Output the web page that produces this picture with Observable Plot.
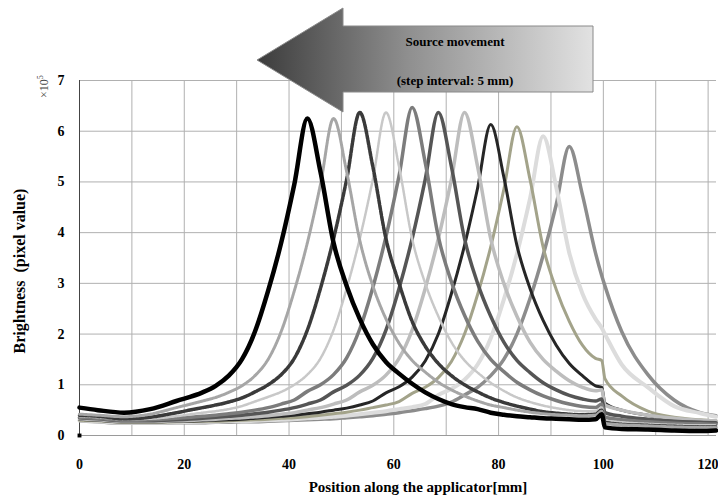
<!DOCTYPE html>
<html><head><meta charset="utf-8">
<script src="https://cdn.jsdelivr.net/npm/d3@7"></script>
<script src="https://cdn.jsdelivr.net/npm/@observablehq/plot@0.6"></script>
<style>
body{margin:0;background:#fff;}
#wrap{position:relative;width:718px;height:504px;overflow:hidden;}
#wrap svg.overlay{position:absolute;left:0;top:0;pointer-events:none;}
</style></head><body><div id="wrap"></div>
<script>
// Position along the applicator [mm] (shared sample grid)
const positions = [0, 3.5, 8.5, 13.5, 18.5, 23.5, 26, 28.5, 31, 33.5, 36, 38.5, 41, 43.5, 46, 48.5, 51, 53.5, 56, 58.5, 61, 63.5, 66, 68.5, 71, 73.5, 76, 78.5, 81, 83.5, 86, 88.5, 91, 93.5, 96, 98.5, 99.7, 100.3, 103.5, 108.5, 113.5, 118.5, 121.5];

// Brightness (x10^5) for each source position (peak near 43.5 ... 93.5 mm)
const src1 = [0.55,0.50,0.45,0.52,0.68,0.85,0.98,1.18,1.50,2.05,2.85,3.80,4.95,6.25,5.20,3.80,2.95,2.30,1.80,1.45,1.22,1.02,0.85,0.72,0.62,0.56,0.52,0.45,0.41,0.38,0.36,0.34,0.33,0.32,0.31,0.32,0.42,0.16,0.13,0.12,0.10,0.09,0.10];
const src2 = [0.42,0.40,0.37,0.42,0.55,0.68,0.75,0.85,0.98,1.18,1.50,2.05,2.85,3.80,4.95,6.25,5.20,3.85,2.95,2.30,1.82,1.48,1.25,1.05,0.90,0.78,0.68,0.60,0.55,0.50,0.46,0.43,0.41,0.40,0.39,0.40,0.48,0.24,0.21,0.19,0.17,0.16,0.16];
const src3 = [0.40,0.38,0.33,0.36,0.45,0.55,0.60,0.66,0.74,0.86,1.00,1.20,1.52,2.08,2.90,3.88,5.05,6.37,5.30,3.88,3.00,2.25,1.76,1.42,1.18,1.00,0.86,0.74,0.65,0.58,0.52,0.47,0.44,0.42,0.41,0.42,0.50,0.26,0.22,0.20,0.18,0.17,0.17];
const src4 = [0.38,0.36,0.32,0.33,0.38,0.45,0.48,0.52,0.58,0.67,0.76,0.86,1.00,1.20,1.52,2.08,2.90,3.88,5.05,6.37,5.30,3.88,3.00,2.35,1.84,1.48,1.24,1.04,0.88,0.75,0.66,0.59,0.54,0.50,0.48,0.48,0.55,0.30,0.26,0.23,0.21,0.20,0.20];
const src5 = [0.36,0.34,0.30,0.31,0.34,0.38,0.40,0.43,0.46,0.50,0.55,0.62,0.70,0.87,1.00,1.20,1.53,2.10,2.92,3.92,5.12,6.47,5.38,3.92,3.03,2.37,1.86,1.50,1.26,1.05,0.90,0.78,0.69,0.62,0.57,0.55,0.62,0.36,0.31,0.27,0.24,0.23,0.22];
const src6 = [0.35,0.33,0.29,0.29,0.31,0.34,0.36,0.38,0.40,0.43,0.46,0.50,0.55,0.62,0.70,0.86,0.99,1.19,1.52,2.08,2.90,3.88,5.05,6.37,5.30,3.88,3.00,2.35,1.84,1.48,1.24,1.04,0.90,0.79,0.72,0.68,0.72,0.45,0.38,0.32,0.28,0.26,0.25];
const src7 = [0.33,0.31,0.28,0.28,0.29,0.31,0.32,0.34,0.35,0.37,0.39,0.42,0.45,0.50,0.55,0.62,0.70,0.86,0.99,1.19,1.52,2.08,2.90,3.88,5.05,6.37,5.30,3.88,3.00,2.35,1.84,1.50,1.27,1.08,0.95,0.88,0.90,0.60,0.50,0.40,0.34,0.30,0.29];
const src8 = [0.32,0.30,0.27,0.27,0.28,0.29,0.30,0.31,0.32,0.34,0.36,0.38,0.40,0.43,0.46,0.50,0.54,0.60,0.68,0.84,0.96,1.15,1.47,2.00,2.80,3.75,4.88,6.13,5.10,3.75,2.90,2.27,1.78,1.42,1.18,0.98,0.95,0.64,0.50,0.40,0.32,0.28,0.26];
const src9 = [0.30,0.29,0.26,0.26,0.27,0.28,0.28,0.29,0.30,0.31,0.32,0.34,0.35,0.37,0.40,0.43,0.46,0.50,0.55,0.60,0.67,0.83,0.95,1.14,1.46,2.00,2.78,3.72,4.85,6.09,5.05,3.72,2.88,2.25,1.78,1.52,1.48,1.12,0.78,0.48,0.36,0.31,0.29];
const src10 = [0.30,0.28,0.25,0.25,0.26,0.27,0.27,0.28,0.28,0.29,0.30,0.31,0.32,0.34,0.35,0.37,0.39,0.42,0.45,0.48,0.52,0.56,0.62,0.80,0.92,1.10,1.40,1.92,2.68,3.58,4.67,5.90,4.90,3.60,2.80,2.30,2.12,2.00,1.40,0.95,0.58,0.44,0.37];
const src11 = [0.29,0.27,0.24,0.24,0.25,0.25,0.26,0.26,0.27,0.27,0.28,0.29,0.30,0.31,0.32,0.33,0.35,0.37,0.39,0.42,0.45,0.49,0.53,0.58,0.66,0.80,0.95,1.18,1.50,2.00,2.70,3.55,4.55,5.70,4.75,3.60,3.15,2.95,2.05,1.20,0.70,0.45,0.39];

const seriesValues = [src1, src2, src3, src4, src5, src6, src7, src8, src9, src10, src11];
const seriesColors = ["#000000", "#a6a6a6", "#3a3a3a", "#c8c8c8", "#7c7c7c", "#555555", "#bdbdbd", "#262626", "#a3a38a", "#dcdcdc", "#8c8c8c"];
const seriesWidths = [4.5, 3, 3.5, 2.5, 3.5, 3.5, 3.5, 3, 3, 4, 3.5];
const seriesDash = [null, "2,1", "4,1.5", "2,1", null, null, null, null, null, null, null];

const originMarker = [{x: 0, y: 0}];
const xTicks = [0, 20, 40, 60, 80, 100, 120];
const xGrid = [10, 20, 30, 40, 50, 60, 70, 80, 90, 100, 110, 120];
const yTicks = [0, 1, 2, 3, 4, 5, 6, 7];
const xLabel = "Position along the applicator[mm]";
const yLabel = "Brightness  (pixel value)";
const yExponentBase = "×10";
const yExponentPower = "5";
const arrowText = ["Source movement", "(step interval: 5 mm)"];

const serif = "'Liberation Serif', 'DejaVu Serif', serif";

const lineMarks = [];
for (let i = seriesValues.length - 1; i >= 0; i--) {
  const data = seriesValues[i].map((y, j) => ({x: positions[j], y}));
  lineMarks.push(Plot.line(data, {
    x: "x", y: "y", stroke: seriesColors[i], strokeWidth: seriesWidths[i],
    strokeDasharray: seriesDash[i] || undefined, curve: "monotone-x", strokeLinejoin: "round"
  }));
}

const chart = Plot.plot({
  width: 718, height: 504,
  marginLeft: 79, marginRight: 2, marginTop: 80, marginBottom: 69,
  x: {domain: [0, 121.6], label: null},
  y: {domain: [0, 7], label: null},
  style: {fontFamily: serif, fontWeight: "bold", fontSize: "14px", background: "#fff", color: "#000", overflow: "visible"},
  marks: [
    Plot.gridX(xGrid, {stroke: "#b0b0b0", strokeOpacity: 1}),
    Plot.gridY(yTicks, {stroke: "#b0b0b0", strokeOpacity: 1}),
    Plot.ruleY([0], {stroke: "#9a9a9a"}),
    Plot.ruleX([0], {stroke: "#444"}),
    ...lineMarks,
    Plot.dot(originMarker, {x: "x", y: "y", symbol: "square", r: 2.2, fill: "#000"}),
    Plot.axisX(xTicks, {tickSize: 0, tickPadding: 24, fontSize: 14, fontWeight: "bold", label: null, tickFormat: d3.format("d")}),
    Plot.axisY(yTicks, {tickSize: 0, tickPadding: 15, fontSize: 14, fontWeight: "bold", label: null, tickFormat: d3.format("d")}),
    Plot.text([yLabel], {frameAnchor: "left", rotate: -90, dx: -60, dy: 13, fontSize: 16, fontWeight: "bold", textAnchor: "middle"}),
    Plot.text([xLabel], {frameAnchor: "bottom", dy: 56, dx: 20, fontSize: 15, fontWeight: "bold"})
  ]
});

const wrap = document.getElementById("wrap");
wrap.appendChild(chart);

// Overlay: exponent note and annotation arrow
const ov = d3.select(wrap).append("svg").attr("class", "overlay").attr("width", 718).attr("height", 504);
const expo = ov.append("text")
  .attr("transform", "translate(48,98) rotate(-90)")
  .attr("font-family", serif).attr("font-size", 12).attr("fill", "#444");
expo.append("tspan").text(yExponentBase);
expo.append("tspan").attr("dy", -5).attr("font-size", 8).text(yExponentPower);

const grad = ov.append("defs").append("linearGradient").attr("id", "ag").attr("x1", "0%").attr("x2", "100%");
grad.append("stop").attr("offset", "0%").attr("stop-color", "#3c3c3c");
grad.append("stop").attr("offset", "45%").attr("stop-color", "#8f8f8f");
grad.append("stop").attr("offset", "100%").attr("stop-color", "#e2e2e2");
ov.append("polygon")
  .attr("points", "257,60 343,8 343,26 593,26 593,92 343,92 343,112")
  .attr("fill", "url(#ag)").attr("stroke", "#8a8a8a").attr("stroke-width", 1);
ov.selectAll("text.al").data(arrowText).join("text").attr("class", "al")
  .attr("x", 455).attr("y", (d, i) => 46 + i * 39)
  .attr("text-anchor", "middle")
  .attr("font-family", serif).attr("font-weight", "bold").attr("font-size", 13)
  .attr("fill", "#000").text(d => d);
</script></body></html>
